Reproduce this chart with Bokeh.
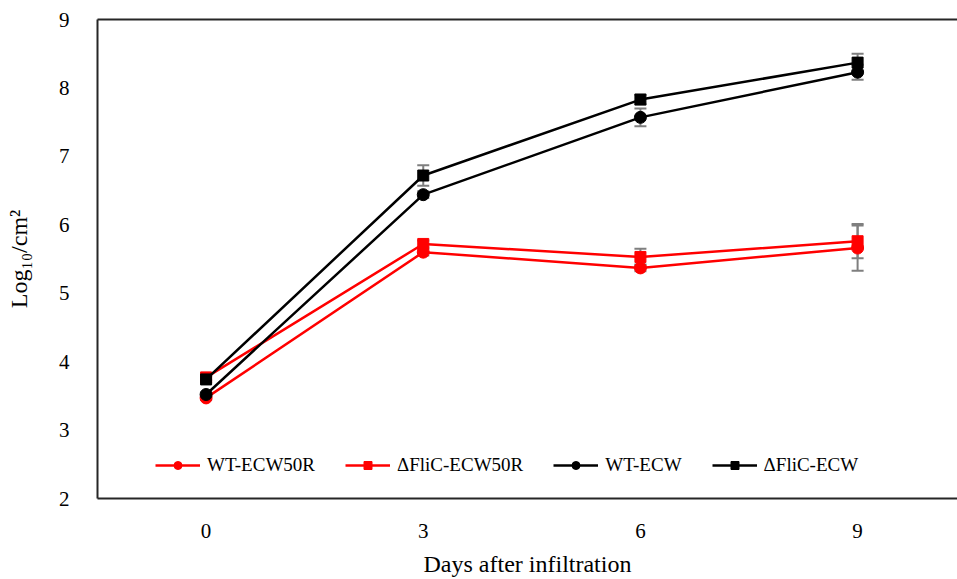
from bokeh.plotting import figure
from bokeh.models import (ColumnDataSource, Whisker, TeeHead, Legend, LegendItem,
                          FixedTicker, Range1d, LinearAxis)
from bokeh.embed import file_html
from bokeh.resources import INLINE

days = [0, 3, 6, 9]
wt_ecw50r = [3.47, 5.60, 5.37, 5.66]
wt_ecw50r_err = [0.03, 0.05, 0.05, 0.33]
dflic_ecw50r = [3.77, 5.72, 5.53, 5.76]
dflic_ecw50r_err = [0.04, 0.05, 0.12, 0.25]
wt_ecw = [3.52, 6.44, 7.57, 8.23]
wt_ecw_err = [0.03, 0.05, 0.13, 0.11]
dflic_ecw = [3.74, 6.72, 7.83, 8.37]
dflic_ecw_err = [0.05, 0.15, 0.07, 0.13]

series = [
    ("WT-ECW50R", wt_ecw50r, wt_ecw50r_err, "#FF0000", "circle"),
    ("\u0394FliC-ECW50R", dflic_ecw50r, dflic_ecw50r_err, "#FF0000", "square"),
    ("WT-ECW", wt_ecw, wt_ecw_err, "#000000", "circle"),
    ("\u0394FliC-ECW", dflic_ecw, dflic_ecw_err, "#000000", "square"),
]

FONT = "Liberation Serif"
FRAME = "#262626"

p = figure(width=957, height=579, output_backend="svg", toolbar_location=None,
           x_range=Range1d(-1.5, 10.38), y_range=Range1d(2, 9),
           min_border_left=97, min_border_right=0, min_border_top=19,
           min_border_bottom=79)
p.xgrid.visible = False
p.ygrid.visible = False
p.outline_line_color = None
p.background_fill_color = "white"
p.border_fill_color = "white"

xax = p.below[0]
yax = p.left[0]

for ax in (xax, yax):
    ax.axis_line_color = FRAME
    ax.axis_line_width = 2
    ax.major_tick_line_color = None
    ax.minor_tick_line_color = None
    ax.major_label_text_font = FONT
    ax.major_label_text_font_size = "21px"
    ax.major_label_text_color = "#000000"
    ax.axis_label_text_font = FONT
    ax.axis_label_text_font_style = "normal"
    ax.axis_label_text_font_size = "24px"
    ax.axis_label_text_color = "#000000"

xax.ticker = FixedTicker(ticks=days)
yax.ticker = FixedTicker(ticks=[2, 3, 4, 5, 6, 7, 8, 9])
xax.major_label_standoff = 19
yax.major_label_standoff = 22
xax.axis_label = "Days after infiltration"
xax.axis_label_standoff = 10
yax.axis_label = "Log\u2081\u2080/cm\u00b2"
yax.axis_label_standoff = 24

top = LinearAxis(ticker=FixedTicker(ticks=[]), axis_line_color=FRAME,
                 axis_line_width=2, major_tick_line_color=None,
                 minor_tick_line_color=None, major_tick_out=0,
                 major_label_standoff=0)
p.add_layout(top, "above")

items = []
for name, vals, errs, color, marker in series:
    src = ColumnDataSource(dict(
        x=days, y=vals,
        lo=[v - e for v, e in zip(vals, errs)],
        hi=[v + e for v, e in zip(vals, errs)]))
    w = Whisker(source=src, base="x", lower="lo", upper="hi",
                line_color="#7f7f7f", line_width=2, level="underlay",
                upper_head=TeeHead(size=12, line_color="#7f7f7f", line_width=2),
                lower_head=TeeHead(size=12, line_color="#7f7f7f", line_width=2))
    p.add_layout(w)
    ln = p.line("x", "y", source=src, line_color=color, line_width=2.5)
    sz = 12 if marker == "circle" else 11
    sc = p.scatter("x", "y", source=src, marker=marker, size=sz,
                   fill_color=color, line_color=color)
    items.append(LegendItem(label=name, renderers=[ln, sc]))

legend = Legend(items=items, orientation="horizontal", location=(58, 22),
                border_line_color=None, background_fill_alpha=0,
                label_text_font=FONT, label_text_font_size="19px",
                label_text_color="#000000",
                glyph_width=45, glyph_height=20, label_height=20,
                label_standoff=7, spacing=30, padding=0, margin=0)
p.add_layout(legend, "center")

open("out.html", "w").write(file_html(p, INLINE))
